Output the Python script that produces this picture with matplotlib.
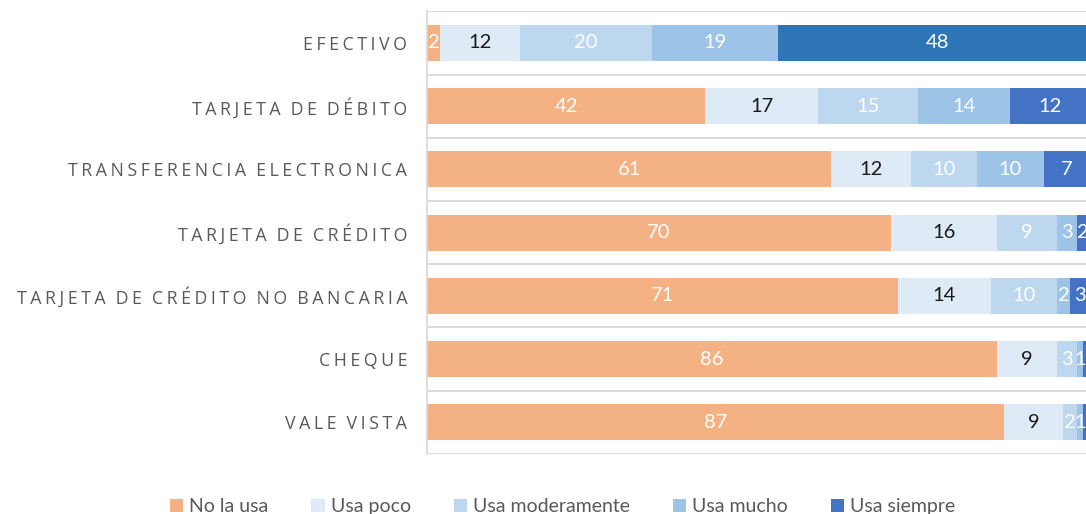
import matplotlib
matplotlib.use("Agg")
import matplotlib.pyplot as plt
from matplotlib.patches import Patch
import numpy as np

# Categories (top to bottom) and share of respondents per usage level
categories = [
    "EFECTIVO",
    "TARJETA DE DÉBITO",
    "TRANSFERENCIA ELECTRONICA",
    "TARJETA DE CRÉDITO",
    "TARJETA DE CRÉDITO NO BANCARIA",
    "CHEQUE",
    "VALE VISTA",
]
series_names = ["No la usa", "Usa poco", "Usa moderamente", "Usa mucho", "Usa siempre"]
no_la_usa = [2, 42, 61, 70, 71, 86, 87]
usa_poco = [12, 17, 12, 16, 14, 9, 9]
usa_moderamente = [20, 15, 10, 9, 10, 3, 2]
usa_mucho = [19, 14, 10, 3, 2, 1, 1]
usa_siempre = [48, 12, 7, 2, 3, 1, 1]

series = [no_la_usa, usa_poco, usa_moderamente, usa_mucho, usa_siempre]
colors = ["#F4B183", "#DEEBF7", "#BDD7EE", "#9DC3E6", "#4472C4"]
label_colors = ["white", "#1a1a1a", "white", "white", "white"]

XMAX = 99.4

fig = plt.figure(figsize=(10.86, 5.14), dpi=100)
ax = fig.add_axes([0.393, 0.117, 0.607, 0.861])

n = len(categories)
y = np.arange(n)
left = np.zeros(n)
bar_h = 0.57
for i, (vals, col) in enumerate(zip(series, colors)):
    vals = np.array(vals, dtype=float)
    cols = [col] * n
    if i == 4:
        cols[0] = "#2E75B6"
    ax.barh(y, vals, left=left, height=bar_h, color=cols, edgecolor="none", zorder=2)
    for j in range(n):
        cx = left[j] + vals[j] / 2
        if cx > XMAX:
            continue  # label centre falls past the visible range
        ax.text(cx, y[j], f"{int(vals[j])}", ha="center", va="center",
                color=label_colors[i], fontsize=14.5, family=["Lato", "DejaVu Sans"],
                clip_on=True, zorder=3)
    left += vals

ax.set_xlim(0, XMAX)
ax.set_ylim(n - 0.5, -0.5)

# Category separators
for b in np.arange(-0.5, n, 1.0):
    ax.axhline(b, color="#D9D9D9", lw=1.3, zorder=1)

for s in ["top", "right", "bottom"]:
    ax.spines[s].set_visible(False)
ax.spines["left"].set_color("#D9D9D9")
ax.spines["left"].set_linewidth(1.3)
ax.set_xticks([])


def spaced(text):
    return "\u200a\u200a".join(text.replace(" ", "\u2009"))


ax.set_yticks(y)
ax.set_yticklabels([spaced(c) for c in categories], fontsize=12.8,
                   color="#595959", family=["Open Sans", "DejaVu Sans"])
ax.tick_params(axis="y", length=0, pad=14)

handles = [Patch(facecolor=c, edgecolor="none") for c in colors]
fig.legend(handles, series_names, loc="center", bbox_to_anchor=(0.518, 0.014),
           ncol=5, frameon=False, labelcolor="#595959",
           prop={"family": "Lato", "size": 14},
           handlelength=0.7, handleheight=0.7, handletextpad=0.3, columnspacing=2.2)

fig.savefig("out.png", dpi=100)
